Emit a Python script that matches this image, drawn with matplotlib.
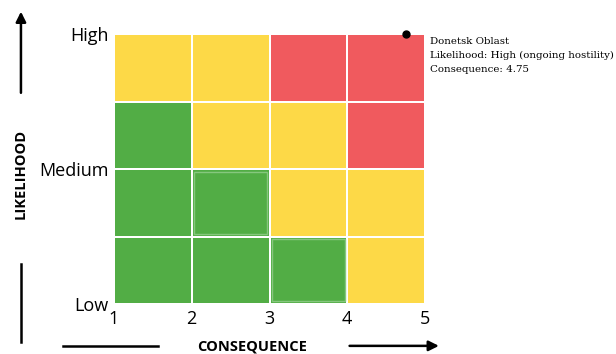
import matplotlib
matplotlib.use("Agg")
import matplotlib.pyplot as plt
import matplotlib.patches as mpatches
import numpy as np
from matplotlib.colors import ListedColormap

# Risk levels per cell, rows from Low (bottom) to High (top), columns consequence 1..5
risk_rows = [
    [0, 0, 0, 1],
    [0, 0, 1, 1],
    [0, 1, 1, 2],
    [1, 1, 2, 2],
]
risk_colors = ["#52AD45", "#FDD947", "#F05A5E"]
# Cells (column, row) drawn with a soft inner outline
outlined_cells = [(1, 1), (2, 0)]

x_ticks = [1, 2, 3, 4, 5]
x_labels = ["1", "2", "3", "4", "5"]
y_ticks = [0, 2, 4]
y_labels = ["Low", "Medium", "High"]

point_name = "Donetsk Oblast"
point_likelihood_label = "High (ongoing hostility)"
point_consequence = 4.75
point_likelihood = 4

fig = plt.figure(figsize=(6.16, 3.54), dpi=100)
ax = fig.add_axes([0.185, 0.141, 0.505, 0.763])

xe = np.arange(1, 6)
ye = np.arange(0, 5)
ax.pcolormesh(xe, ye, np.array(risk_rows), cmap=ListedColormap(risk_colors),
              vmin=-0.5, vmax=2.5, edgecolors="white", linewidth=1.1)

for c, r in outlined_cells:
    ax.add_patch(mpatches.Rectangle((xe[c] + 0.03, ye[r] + 0.04), 0.94, 0.92,
                                    fill=False, edgecolor="#86C77E", lw=1.0, zorder=3))

ax.set_xlim(1, 5)
ax.set_ylim(0, 4)
for s in ax.spines.values():
    s.set_visible(False)
ax.set_xticks(x_ticks)
ax.set_xticklabels(x_labels, fontsize=13, family="Open Sans")
ax.set_yticks(y_ticks)
ax.set_yticklabels(y_labels, fontsize=13, family="Open Sans")
ax.tick_params(axis="x", length=0, pad=4)
ax.tick_params(axis="y", length=0, pad=4)

ax.plot([point_consequence], [point_likelihood], "o", color="black",
        markersize=5, clip_on=False, zorder=5)
ax.annotate(f"{point_name}\nLikelihood: {point_likelihood_label}\nConsequence: {point_consequence}",
            xy=(point_consequence, point_likelihood), xytext=(17.5, -2),
            textcoords="offset points", ha="left", va="top",
            fontsize=7.4, family="DejaVu Serif", linespacing=1.75,
            annotation_clip=False)

# Axis titles with arrows
fig.text(0.034, 0.51, "LIKELIHOOD", rotation=90, ha="center", va="center",
         fontsize=10.5, fontweight="bold", family="Open Sans")
fig.text(0.409, 0.02, "CONSEQUENCE", ha="center", va="center",
         fontsize=10.5, fontweight="bold", family="Open Sans")

fig.add_artist(plt.Line2D([0.034, 0.034], [0.035, 0.255], color="black", lw=1.8))
fig.patches.append(mpatches.FancyArrowPatch(
    (0.034, 0.73), (0.034, 0.975), transform=fig.transFigure,
    arrowstyle="-|>,head_length=6,head_width=3", color="black", lw=1.8))
fig.add_artist(plt.Line2D([0.102, 0.257], [0.023, 0.023], color="black", lw=1.8))
fig.patches.append(mpatches.FancyArrowPatch(
    (0.563, 0.023), (0.717, 0.023), transform=fig.transFigure,
    arrowstyle="-|>,head_length=6,head_width=3", color="black", lw=1.8))

fig.savefig("out.png", dpi=100)
